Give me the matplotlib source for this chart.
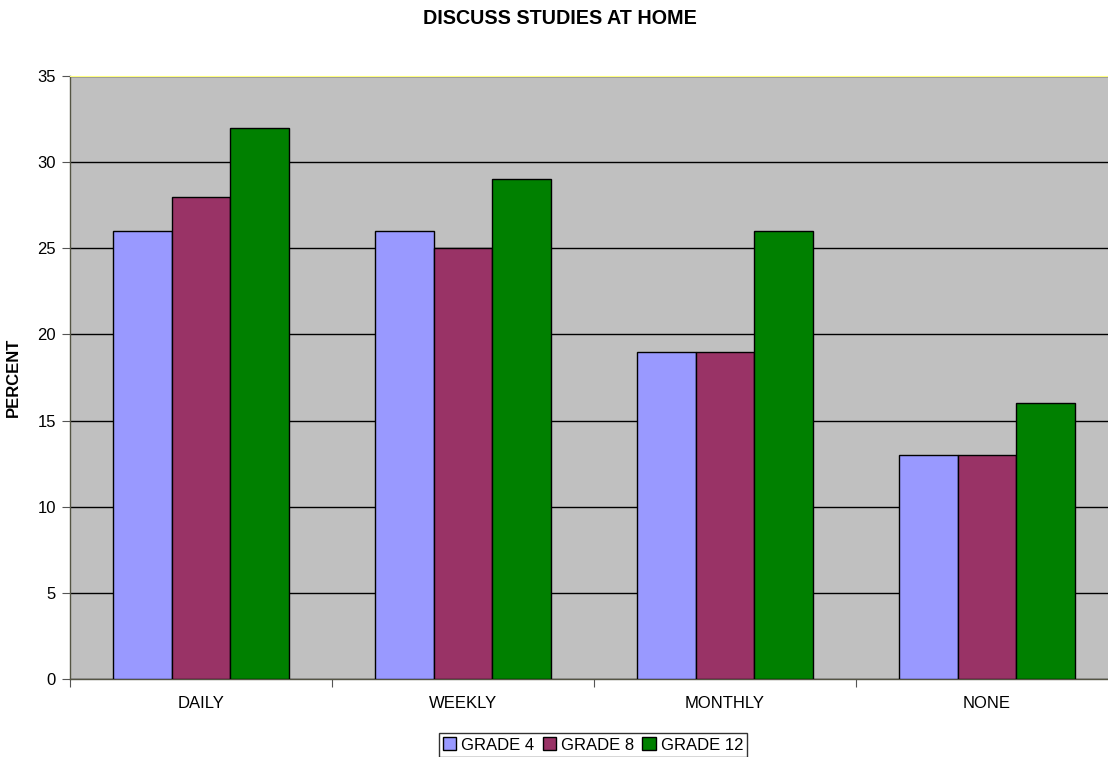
import numpy as np
import matplotlib.pyplot as plt

plt.rcParams['font.family'] = ['Liberation Sans', 'DejaVu Sans']

# Доля учащихся по частоте обсуждения учёбы дома
categories = ["DAILY", "WEEKLY", "MONTHLY", "NONE"]
series = ["GRADE 4", "GRADE 8", "GRADE 12"]
grade4 = [26, 26, 19, 13]
grade8 = [28, 25, 19, 13]
grade12 = [32, 29, 26, 16]
colors = ["#9999FF", "#993366", "#008000"]

fig = plt.figure(figsize=(11.08, 7.57), dpi=100)
ax = fig.add_axes([70 / 1108, 1 - 679 / 757, 1048 / 1108, 603 / 757])
ax.set_facecolor("#C0C0C0")

x = np.arange(len(categories)) + 0.5
w = 0.224
for i, (vals, name, c) in enumerate(zip([grade4, grade8, grade12], series, colors)):
    ax.bar(x + (i - 1) * w, vals, w, color=c, edgecolor="black", linewidth=1,
           label=name, zorder=3)

ax.set_xlim(0, 4)
ax.set_ylim(0, 35)
ax.set_yticks(range(0, 36, 5))
ax.yaxis.grid(True, color="black", linewidth=1, zorder=1)
ax.set_axisbelow(True)

# деления между категориями, подписи по центру
ax.set_xticks(range(0, 5))
ax.set_xticklabels([])
ax.set_xticks(x, minor=True)
ax.set_xticklabels(categories, minor=True)
ax.tick_params(axis="x", which="minor", length=0, pad=12, labelsize=12)
ax.tick_params(axis="x", which="major", length=6, color="#555555", direction="out")
ax.tick_params(axis="y", length=6, color="#555555", labelsize=12, pad=4)

for s in ["left", "bottom"]:
    ax.spines[s].set_color("#555544")
    ax.spines[s].set_linewidth(1)
ax.spines["top"].set_color("#FFFF80")
ax.spines["right"].set_visible(False)

ax.set_ylabel("PERCENT", fontsize=12, fontweight="bold", labelpad=12)
fig.text(560 / 1108, 1 - 19 / 757, "DISCUSS STUDIES AT HOME", ha="center",
         va="center", fontsize=14.2, fontweight="bold")

leg = fig.legend(loc="center", bbox_to_anchor=(593 / 1108, 1 - 745 / 757), ncol=3,
                 fontsize=12, frameon=True, fancybox=False, handlelength=0.8,
                 handleheight=0.8, handletextpad=0.3, columnspacing=0.5,
                 borderpad=0.25, borderaxespad=0)
leg.get_frame().set_edgecolor("black")
leg.get_frame().set_linewidth(1)

fig.savefig("out.png", dpi=100)
